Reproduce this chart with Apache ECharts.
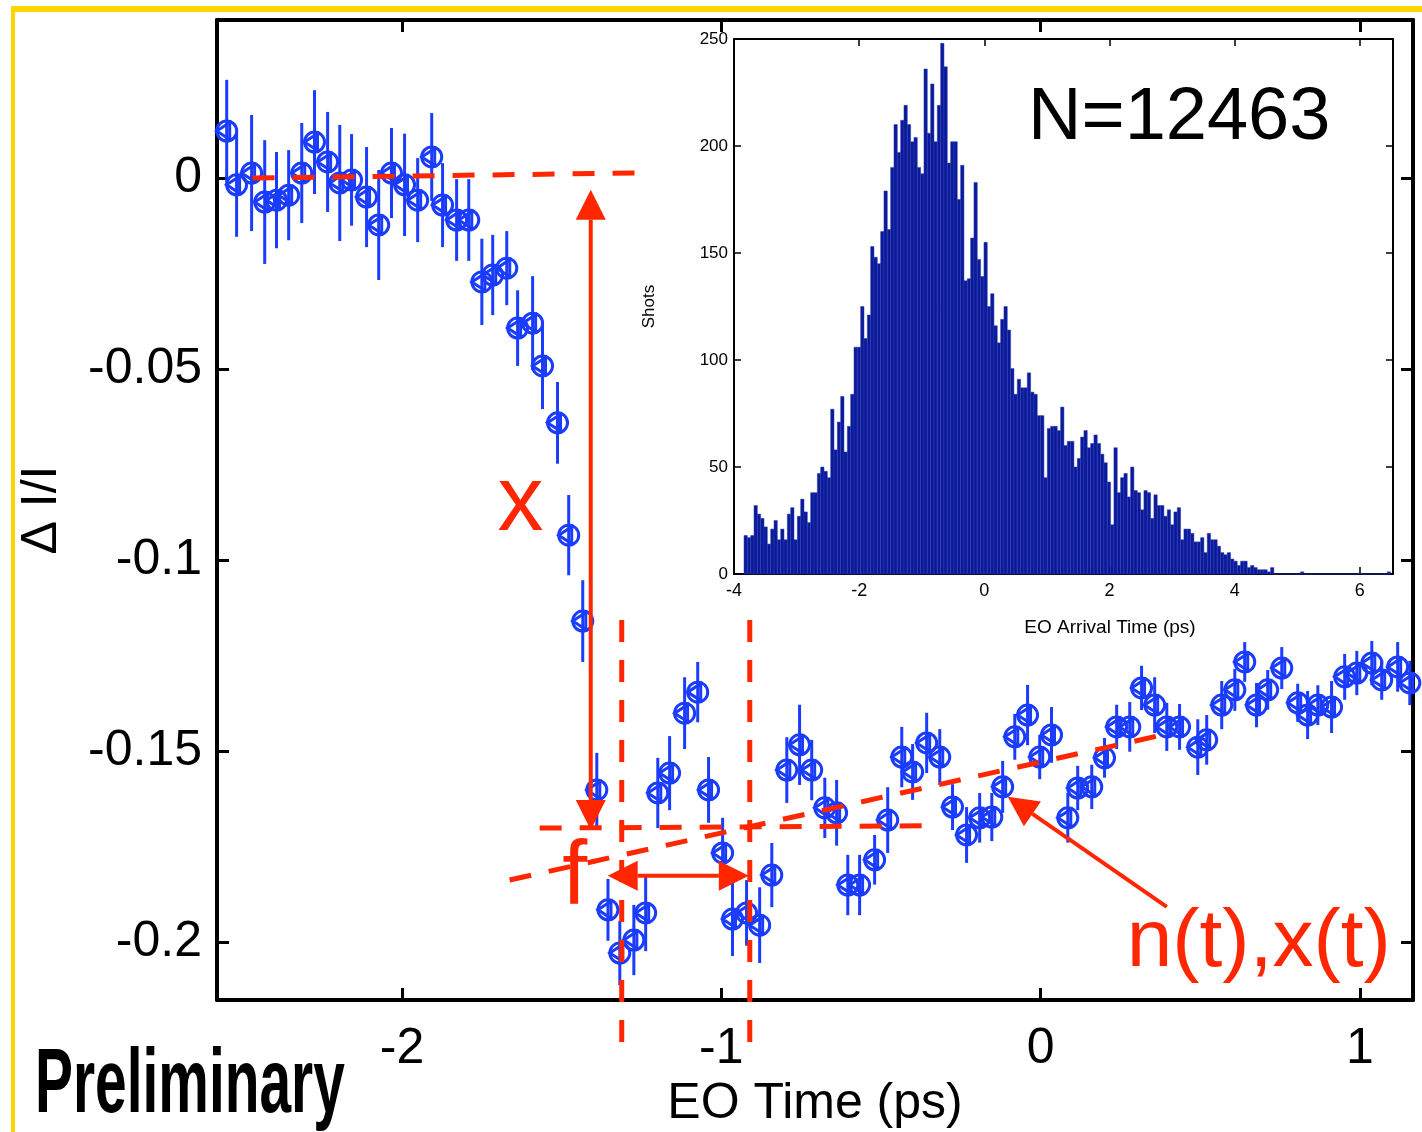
<!DOCTYPE html>
<html><head><meta charset="utf-8">
<script src="https://cdn.jsdelivr.net/npm/echarts@6/dist/echarts.min.js"></script>
<style>html,body{margin:0;padding:0;background:#fff}#c{width:1422px;height:1132px}</style>
</head><body><div id="c"></div>
<script>
// ---- main data: EO time (ps), ΔI/I, error half-widths ----
const times = [-2.549,-2.518,-2.471,-2.430,-2.393,-2.355,-2.314,-2.274,-2.233,-2.195,
  -2.158,-2.111,-2.073,-2.033,-1.992,-1.951,-1.907,-1.873,-1.829,-1.791,
  -1.750,-1.716,-1.672,-1.638,-1.591,-1.560,-1.513,-1.478,-1.434,-1.390,
  -1.355,-1.318,-1.274,-1.237,-1.199,-1.162,-1.115,-1.074,-1.040,-0.996,
  -0.965,-0.921,-0.880,-0.842,-0.795,-0.755,-0.717,-0.676,-0.639,-0.604,
  -0.567,-0.520,-0.479,-0.435,-0.401,-0.357,-0.316,-0.276,-0.232,-0.191,
  -0.153,-0.119,-0.081,-0.041,-0.003,0.034,0.085,0.116,0.160,0.200,
  0.238,0.279,0.316,0.357,0.395,0.435,0.492,0.520,0.567,0.608,
  0.639,0.676,0.711,0.755,0.805,0.836,0.868,0.911,0.952,0.990,
  1.037,1.068,1.118,1.156];
const dIoverI = [0.0123,-0.0018,0.0013,-0.0063,-0.0058,-0.0045,0.0013,0.0094,0.0042,-0.0013,
  -0.0005,-0.0050,-0.0123,0.0013,-0.0018,-0.0058,0.0055,-0.0071,-0.0110,-0.0110,
  -0.0272,-0.0254,-0.0236,-0.0393,-0.0380,-0.0492,-0.0641,-0.0935,-0.1160,-0.1602,
  -0.1916,-0.2029,-0.1995,-0.1924,-0.1610,-0.1558,-0.1401,-0.1346,-0.1602,-0.1767,
  -0.1940,-0.1924,-0.1956,-0.1825,-0.1550,-0.1484,-0.1550,-0.1649,-0.1662,-0.1851,
  -0.1851,-0.1785,-0.1681,-0.1516,-0.1555,-0.1479,-0.1516,-0.1647,-0.1720,-0.1675,
  -0.1673,-0.1594,-0.1463,-0.1406,-0.1516,-0.1458,-0.1675,-0.1597,-0.1594,-0.1518,
  -0.1437,-0.1437,-0.1335,-0.1380,-0.1437,-0.1437,-0.1490,-0.1471,-0.1380,-0.1340,
  -0.1267,-0.1380,-0.1340,-0.1283,-0.1374,-0.1406,-0.1380,-0.1385,-0.1306,-0.1296,
  -0.1270,-0.1314,-0.1280,-0.1322];
const errBars = [0.0134,0.0136,0.0152,0.0162,0.0126,0.0118,0.0131,0.0136,0.0131,0.0152,
  0.0120,0.0131,0.0144,0.0118,0.0134,0.0110,0.0115,0.0110,0.0107,0.0107,
  0.0113,0.0105,0.0097,0.0099,0.0123,0.0113,0.0107,0.0105,0.0107,0.0097,
  0.0081,0.0084,0.0092,0.0100,0.0092,0.0097,0.0094,0.0079,0.0086,0.0092,
  0.0097,0.0086,0.0099,0.0084,0.0086,0.0105,0.0079,0.0079,0.0086,0.0079,
  0.0079,0.0065,0.0086,0.0079,0.0073,0.0079,0.0073,0.0060,0.0073,0.0065,
  0.0063,0.0068,0.0060,0.0079,0.0058,0.0073,0.0065,0.0058,0.0058,0.0052,
  0.0058,0.0065,0.0058,0.0073,0.0063,0.0060,0.0073,0.0065,0.0063,0.0055,
  0.0052,0.0058,0.0052,0.0055,0.0050,0.0063,0.0052,0.0068,0.0060,0.0058,
  0.0058,0.0052,0.0065,0.0058];
const xTicks = [-2, -1, 0, 1];
const yTicks = [0, -0.05, -0.1, -0.15, -0.2];

// ---- inset histogram: EO arrival time ----
const histStart = -3.84;
const histBinWidth = 0.05325;
const histCounts = [18,17,18,32,28,26,22,14,21,25,
  16,21,16,28,31,16,27,35,29,24,
  38,38,47,50,48,45,77,58,71,83,
  57,69,84,106,106,125,110,121,153,148,
  145,160,179,161,190,210,197,212,219,210,
  202,204,190,187,236,206,229,202,219,248,
  237,192,202,202,175,191,137,138,157,183,
  147,139,155,125,131,116,108,119,125,114,
  96,84,91,87,87,94,85,84,74,74,
  45,68,69,69,67,78,60,62,62,50,
  54,64,67,59,61,65,61,56,52,43,
  23,59,38,45,47,36,50,39,38,30,
  39,38,26,37,32,32,27,30,23,29,
  31,16,21,21,19,15,15,17,10,19,
  16,16,13,10,9,10,7,6,4,6,
  6,3,4,3,2,2,2,1,3,0,
  0,0,0,0,0,0,0,1,0,0,
  0,0,0,0,0,0,0,0,0,0,
  0,0,0,0,0,0,0,0,0,0,
  0,0,0,1];
const insetXTicks = [-4, -2, 0, 2, 4, 6];
const insetYTicks = [0, 50, 100, 150, 200, 250];

// ---- annotations (data coords of main axes) ----
const dashedLines = [
  [-2.468, 0.0000, -1.262, 0.0013],
  [-1.312, -0.1157, -1.312, -0.2275],
  [-0.911, -0.1157, -0.911, -0.2275],
  [-1.569, -0.1702, -0.357, -0.1696],
  [-1.663, -0.1838, 0.382, -0.1458]
];
const arrows = [ // x1,y1 (tail), x2,y2 (head), double-headed flag
  [-1.409, -0.1707, -1.409, -0.0031, 1],
  [-1.356, -0.1827, -0.914, -0.1827, 1],
  [0.395, -0.1908, -0.103, -0.1620, 0]
];
const noteTexts = ['x', 'f', 'n(t),x(t)'];
const notePos = [[-1.629, -0.0856], [-1.459, -0.1835], [0.683, -0.2005]];
const noteSizes = [92, 90, 82];

const BLUE = '#1a3cff', RED = '#ff2600', FONT = '"Liberation Sans", Arial, Helvetica, sans-serif';

const histData = histCounts.map((c, i) => [histStart + i * histBinWidth, histStart + (i + 1) * histBinWidth, c]);
const pointData = times.map((t, i) => [t, dIoverI[i], errBars[i]]);

function mainXAxis(pos, show) {
  return {
    type: 'value', gridIndex: 0, position: pos, min: -2.5794, max: 1.166,
    axisLine: { show: true, onZero: false, lineStyle: { color: '#000', width: 4 } },
    axisTick: { show: true, inside: true, length: 12, customValues: xTicks, lineStyle: { color: '#000', width: 3 } },
    axisLabel: { show: show, customValues: xTicks, fontSize: 50, color: '#000', fontFamily: FONT, margin: 24 },
    splitLine: { show: false },
    name: show ? 'EO Time (ps)' : '', nameLocation: 'middle', nameGap: 76,
    nameTextStyle: { fontSize: 50, color: '#000', fontFamily: FONT }
  };
}
function mainYAxis(pos, show) {
  return {
    type: 'value', gridIndex: 0, position: pos, min: -0.2152, max: 0.04136,
    axisLine: { show: true, onZero: false, lineStyle: { color: '#000', width: 4 } },
    axisTick: { show: true, inside: true, length: 12, customValues: yTicks, lineStyle: { color: '#000', width: 3 } },
    axisLabel: { show: show, customValues: yTicks, fontSize: 50, color: '#000', fontFamily: FONT, margin: 15 },
    splitLine: { show: false },
    name: show ? '\u0394 I/I' : '', nameLocation: 'middle', nameGap: 150,
    nameTextStyle: { fontSize: 50, color: '#000', fontFamily: FONT }
  };
}
function insetXAxis(pos, show) {
  return {
    type: 'value', gridIndex: 1, position: pos, min: -4, max: 6.53,
    axisLine: { show: true, onZero: false, lineStyle: { color: '#000', width: 2 } },
    axisTick: { show: true, inside: true, length: 7, customValues: insetXTicks, lineStyle: { color: '#000', width: 1.5 } },
    axisLabel: { show: show, customValues: insetXTicks, fontSize: 18, color: '#000', fontFamily: FONT, margin: 8 },
    splitLine: { show: false }
  };
}
function insetYAxis(pos, show) {
  return {
    type: 'value', gridIndex: 1, position: pos, min: 0, max: 250,
    axisLine: { show: true, onZero: false, lineStyle: { color: '#000', width: 2 } },
    axisTick: { show: true, inside: true, length: 7, customValues: insetYTicks, lineStyle: { color: '#000', width: 1.5 } },
    axisLabel: { show: show, customValues: insetYTicks, fontSize: 17, color: '#000', fontFamily: FONT, margin: 6 },
    splitLine: { show: false },
    name: show ? 'Shots' : '', nameLocation: 'middle', nameGap: 76,
    nameTextStyle: { fontSize: 17, color: '#000', fontFamily: FONT }
  };
}

function arrowHead(tip, from, len, half) {
  const dx = tip[0] - from[0], dy = tip[1] - from[1];
  const L = Math.sqrt(dx * dx + dy * dy) || 1;
  const ux = dx / L, uy = dy / L;
  const bx = tip[0] - ux * len, by = tip[1] - uy * len;
  return { base: [bx, by], pts: [[tip[0], tip[1]], [bx - uy * half, by + ux * half], [bx + uy * half, by - ux * half]] };
}

const chart = echarts.init(document.getElementById('c'), null, { renderer: 'canvas' });
chart.setOption({
  backgroundColor: '#fff',
  animation: false,
  grid: [
    { left: 217, top: 20, right: 9, bottom: 132, containLabel: false, outerBoundsMode: 'none' },
    { left: 734, top: 39, width: 659, height: 535, containLabel: false, outerBoundsMode: 'none' }
  ],
  xAxis: [mainXAxis('bottom', true), mainXAxis('top', false), insetXAxis('bottom', true), insetXAxis('top', false)],
  yAxis: [mainYAxis('left', true), mainYAxis('right', false), insetYAxis('left', true), insetYAxis('right', false)],
  graphic: [
    { type: 'rect', shape: { x: 11, y: 6, width: 1411, height: 6 }, style: { fill: '#ffd500' }, z: 100 },
    { type: 'rect', shape: { x: 11, y: 6, width: 4, height: 1126 }, style: { fill: '#ffd500' }, z: 100 },
    { type: 'text', x: 1028, y: 82, z: 100, style: { text: 'N=12463', fontSize: 74, fontFamily: FONT, fill: '#000', align: 'left', textAlign: 'left', verticalAlign: 'top', textVerticalAlign: 'top' } },
    { type: 'text', x: 1110, y: 628, z: 100, style: { text: 'EO Arrival Time (ps)', fontSize: 19, fontFamily: FONT, fill: '#000', align: 'center', textAlign: 'center', verticalAlign: 'middle', textVerticalAlign: 'middle' } },
    { type: 'text', x: 35, y: 1042, scaleX: 0.632, z: 100, style: { text: 'Preliminary', fontSize: 90, fontWeight: 'bold', fontFamily: FONT, fill: '#000', align: 'left', textAlign: 'left', verticalAlign: 'top', textVerticalAlign: 'top' } }
  ],
  series: [
    {
      type: 'custom', name: 'histogram', xAxisIndex: 2, yAxisIndex: 2, clip: false, z: 2,
      data: histData, encode: { x: [0, 1], y: 2 },
      renderItem: function (params, api) {
        const p0 = api.coord([api.value(0), api.value(2)]);
        const p1 = api.coord([api.value(1), 0]);
        return { type: 'rect', shape: { x: p0[0], y: p0[1], width: p1[0] - p0[0], height: p1[1] - p0[1] },
          style: { fill: '#0b1a99', stroke: '#2a3cb4', lineWidth: 0.5 } };
      }
    },
    {
      type: 'custom', name: 'dI/I', xAxisIndex: 0, yAxisIndex: 0, clip: false, z: 3,
      data: pointData, encode: { x: 0, y: 1 },
      renderItem: function (params, api) {
        const t = api.value(0), v = api.value(1), e = api.value(2);
        const c = api.coord([t, v]), top = api.coord([t, v + e]), bot = api.coord([t, v - e]);
        return { type: 'group', children: [
          { type: 'line', shape: { x1: c[0], y1: top[1], x2: c[0], y2: bot[1] }, style: { stroke: BLUE, lineWidth: 3 } },
          { type: 'circle', shape: { cx: c[0], cy: c[1], r: 10 }, style: { fill: 'none', stroke: BLUE, lineWidth: 3 } },
          { type: 'polygon', shape: { points: [[c[0] - 10, c[1]], [c[0] + 3, c[1] - 8.5], [c[0] + 3, c[1] + 8.5]] }, style: { fill: 'none', stroke: BLUE, lineWidth: 3 } }
        ] };
      }
    },
    {
      type: 'custom', name: 'dashed', xAxisIndex: 0, yAxisIndex: 0, clip: false, z: 5,
      data: dashedLines, encode: { x: [0, 2], y: [1, 3] },
      renderItem: function (params, api) {
        const a = api.coord([api.value(0), api.value(1)]), b = api.coord([api.value(2), api.value(3)]);
        return { type: 'line', shape: { x1: a[0], y1: a[1], x2: b[0], y2: b[1] },
          style: { stroke: RED, lineWidth: 5, lineDash: [22, 18] } };
      }
    },
    {
      type: 'custom', name: 'arrows', xAxisIndex: 0, yAxisIndex: 0, clip: false, z: 5,
      data: arrows, encode: { x: [0, 2], y: [1, 3] },
      renderItem: function (params, api) {
        const a = api.coord([api.value(0), api.value(1)]), b = api.coord([api.value(2), api.value(3)]);
        const both = api.value(4) === 1;
        const hb = arrowHead(b, a, 30, 15);
        let start = a; const children = [];
        children.push({ type: 'polygon', shape: { points: hb.pts }, style: { fill: RED } });
        if (both) {
          const ha = arrowHead(a, b, 30, 15);
          start = ha.base;
          children.push({ type: 'polygon', shape: { points: ha.pts }, style: { fill: RED } });
        }
        children.unshift({ type: 'line', shape: { x1: start[0], y1: start[1], x2: hb.base[0], y2: hb.base[1] }, style: { stroke: RED, lineWidth: 4 } });
        return { type: 'group', children: children };
      }
    },
    {
      type: 'custom', name: 'notes', xAxisIndex: 0, yAxisIndex: 0, clip: false, z: 6,
      data: notePos, encode: { x: 0, y: 1 },
      renderItem: function (params, api) {
        const p = api.coord([api.value(0), api.value(1)]);
        const i = params.dataIndex;
        return { type: 'text', x: p[0], y: p[1], style: { text: noteTexts[i], fontSize: noteSizes[i], fontFamily: FONT, fill: RED,
          align: 'center', textAlign: 'center', verticalAlign: 'middle', textVerticalAlign: 'middle' } };
      }
    }
  ]
});
</script>
</body></html>
